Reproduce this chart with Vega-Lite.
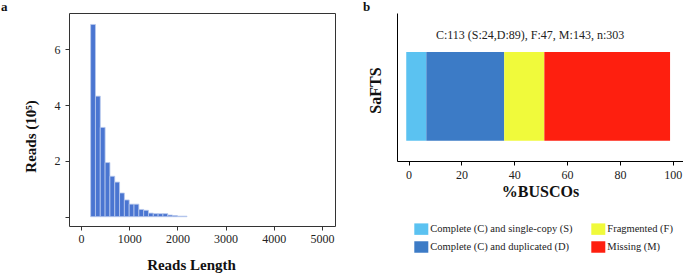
{
  "$schema": "https://vega.github.io/schema/vega-lite/v6.json",
  "padding": 0,
  "autosize": {"type": "pad"},
  "spacing": 62,
  "bounds": "flush",
  "config": {
    "font": "Liberation Serif",
    "axis": {"grid": false, "labelFont": "Liberation Serif", "titleFont": "Liberation Serif", "labelFontSize": 12, "labelColor": "#222", "titleColor": "#111", "titleFontWeight": "bold", "tickColor": "#333", "domainColor": "#111"},
    "title": {"font": "Liberation Serif", "fontWeight": "bold", "fontSize": 13, "anchor": "start", "frame": "group", "baseline": "alphabetic", "offset": -1, "color": "#111"}
  },
  "datasets": {
    "reads": [
      {"start": 200, "end": 300, "reads": 6.89},
      {"start": 300, "end": 400, "reads": 4.32},
      {"start": 400, "end": 500, "reads": 3.2},
      {"start": 500, "end": 600, "reads": 1.94},
      {"start": 600, "end": 700, "reads": 1.45},
      {"start": 700, "end": 800, "reads": 1.24},
      {"start": 800, "end": 900, "reads": 0.85},
      {"start": 900, "end": 1000, "reads": 0.6},
      {"start": 1000, "end": 1100, "reads": 0.45},
      {"start": 1100, "end": 1200, "reads": 0.45},
      {"start": 1200, "end": 1300, "reads": 0.26},
      {"start": 1300, "end": 1400, "reads": 0.23},
      {"start": 1400, "end": 1500, "reads": 0.13},
      {"start": 1500, "end": 1600, "reads": 0.11},
      {"start": 1600, "end": 1700, "reads": 0.11},
      {"start": 1700, "end": 1800, "reads": 0.11},
      {"start": 1800, "end": 1900, "reads": 0.06},
      {"start": 1900, "end": 2000, "reads": 0.04},
      {"start": 2000, "end": 2100, "reads": 0.02},
      {"start": 2100, "end": 2200, "reads": 0.02}
    ],
    "busco": [
      {"sample": "SaFTS", "category": "Complete (C) and single-copy (S)", "start": -0.9, "end": 6.7},
      {"sample": "SaFTS", "category": "Complete (C) and duplicated (D)", "start": 6.7, "end": 36.2},
      {"sample": "SaFTS", "category": "Fragmented (F)", "start": 36.2, "end": 51.4},
      {"sample": "SaFTS", "category": "Missing (M)", "start": 51.4, "end": 99.0}
    ],
    "summary": [
      {"sample": "SaFTS", "label": "C:113 (S:24,D:89), F:47, M:143, n:303"}
    ]
  },
  "hconcat": [
    {
      "width": 266,
      "height": 213,
      "title": {"text": "a", "dx": -68},
      "view": {"stroke": "#333", "strokeWidth": 1},
      "data": {"name": "reads"},
      "mark": {"type": "bar", "color": "#4A75D1", "stroke": "#B9C9EE", "strokeWidth": 0.8},
      "encoding": {
        "x": {"field": "start", "type": "quantitative",
          "scale": {"domain": [-249, 5270], "nice": false, "zero": false},
          "axis": {"values": [0, 1000, 2000, 3000, 4000, 5000], "format": "d", "domain": false, "tickSize": 4, "labelPadding": 3, "title": "Reads Length", "titleFontSize": 15, "titlePadding": 13, "titleX": 122}},
        "x2": {"field": "end"},
        "y": {"field": "reads", "type": "quantitative",
          "scale": {"domain": [-0.333, 7.3], "nice": false, "zero": false},
          "axis": {"values": [0, 2, 4, 6], "domain": false, "tickSize": 4, "labelPadding": 5, "labelExpr": "datum.value == 0 ? '' : datum.label", "title": "Reads (10⁵)", "titleFontSize": 15, "titlePadding": 16, "titleY": 123}},
        "y2": {"datum": 0}
      }
    },
    {
      "width": 286,
      "height": 148,
      "title": {"text": "b", "dx": -34},
      "view": {"stroke": null},
      "layer": [
        {
          "data": {"name": "busco"},
          "mark": {"type": "bar"},
          "encoding": {
            "x": {"field": "start", "type": "quantitative",
              "scale": {"domain": [-4.4, 103.9], "nice": false, "zero": false},
              "axis": {"values": [0, 20, 40, 60, 80, 100], "tickSize": 4, "labelPadding": 4.5, "title": "%BUSCOs", "titleFontSize": 16, "titlePadding": 3, "domainColor": "#000", "tickColor": "#000"}},
            "x2": {"field": "end"},
            "y": {"field": "sample", "type": "nominal",
              "scale": {"paddingInner": 0, "paddingOuter": 0.334, "align": 0.66},
              "axis": {"labels": false, "ticks": false, "title": "SaFTS", "titleFontSize": 16, "titlePadding": 14, "titleY": 77, "domainColor": "#000"}},
            "color": {"field": "category", "type": "nominal",
              "scale": {"domain": ["Complete (C) and single-copy (S)", "Fragmented (F)", "Complete (C) and duplicated (D)", "Missing (M)"],
                        "range": ["#5BC2F1", "#F0FA3B", "#3C7BC6", "#FE1F0F"]},
              "legend": {"orient": "none", "legendX": 345.3, "legendY": 209, "columns": 2, "direction": "horizontal", "title": null,
                "symbolType": "M-1,-0.82H1V0.82H-1Z", "symbolSize": 196, "symbolStrokeWidth": 0, "symbolOpacity": 1,
                "labelFontSize": 10.5, "labelFont": "Liberation Serif", "labelColor": "#222", "labelOffset": 2,
                "columnPadding": 18, "rowPadding": 5}}
          }
        },
        {
          "data": {"name": "summary"},
          "mark": {"type": "text", "fontSize": 12, "color": "#222", "baseline": "middle", "align": "center"},
          "encoding": {
            "x": {"datum": 46, "type": "quantitative"},
            "y": {"field": "sample", "type": "nominal", "bandPosition": -0.195},
            "text": {"field": "label"}
          }
        }
      ]
    }
  ]
}
